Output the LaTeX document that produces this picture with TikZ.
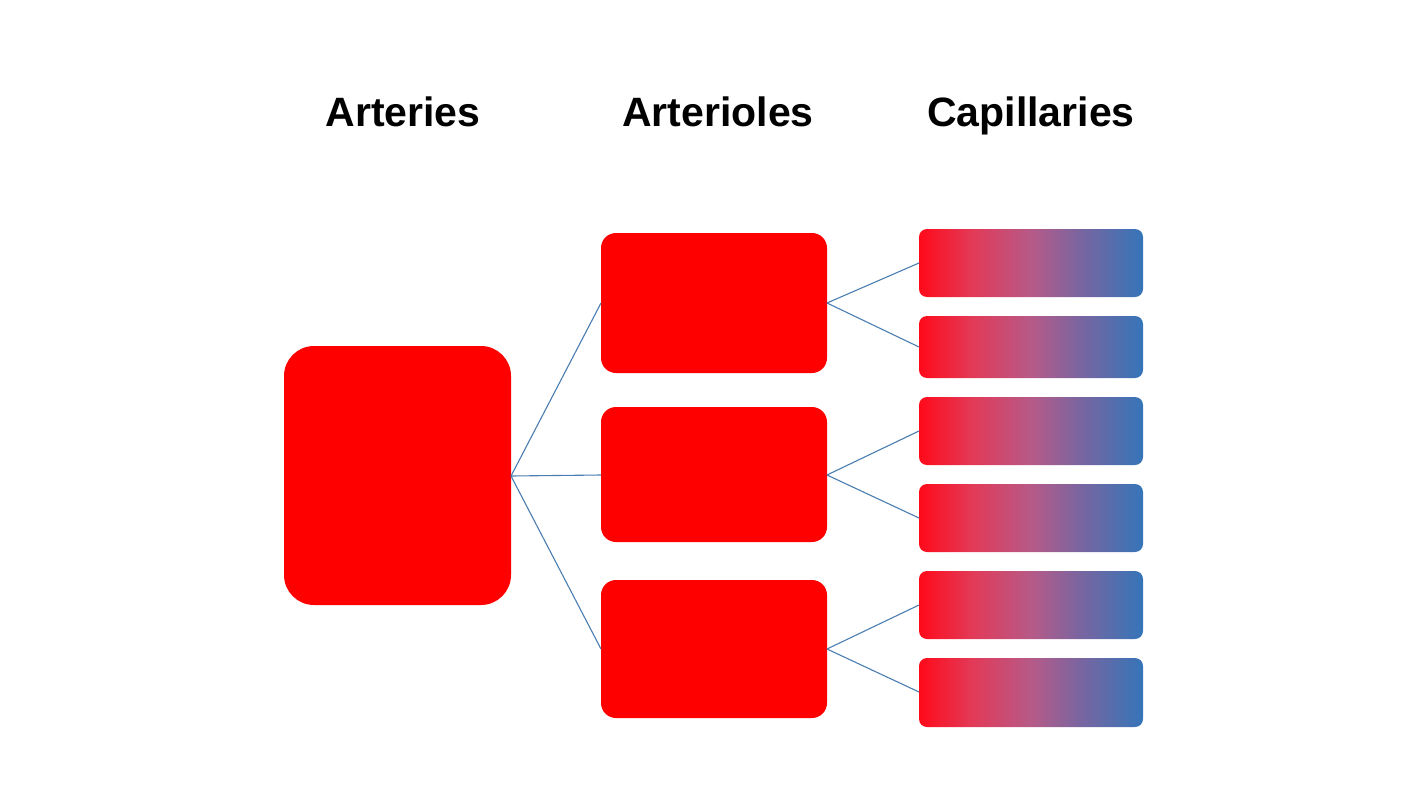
\documentclass[tikz,border=0pt]{standalone}
\usepackage{fontspec}
\setmainfont{Liberation Sans}
\definecolor{capred}{HTML}{FF0A1A}
\definecolor{capq}{HTML}{E23A58}
\definecolor{capmid}{HTML}{B65A88}
\definecolor{capt}{HTML}{7466A2}
\definecolor{capblue}{HTML}{3575B8}
\definecolor{linkblue}{HTML}{4A7EB0}
\pgfdeclarehorizontalshading{capshade}{100bp}{color(0bp)=(capred); color(25bp)=(capred); color(37bp)=(capq); color(50bp)=(capmid); color(62bp)=(capt); color(75bp)=(capblue); color(100bp)=(capblue)}
\tikzset{
  artbox/.style={fill=red, draw=none, rounded corners=30pt, inner sep=0pt},
  aolbox/.style={fill=red, draw=none, rounded corners=15pt, inner sep=0pt},
  capbox/.style={shading=capshade, draw=none, rounded corners=8pt, inner sep=0pt},
  link/.style={draw=linkblue, line width=1.1pt},
  title/.style={font=\fontsize{41}{41}\selectfont\bfseries, inner sep=0pt, anchor=base}
}
\begin{document}
\begin{tikzpicture}[x=1pt,y=-1pt]
\useasboundingbox (0,0) rectangle (1427,803);
\node[title] (tA) at (403,126) {Arteries};
\node[title] (tB) at (718,126) {Arterioles};
\node[title] (tC) at (1031,126) {Capillaries};
% arteries
\path[artbox] (284,346) rectangle (511,605);
\coordinate (aE) at (511,476);
% arterioles
\path[aolbox] (601,233) rectangle (827,373);
\path[aolbox] (601,407) rectangle (827,542);
\path[aolbox] (601,580) rectangle (827,718);
\coordinate (b1W) at (601,303); \coordinate (b1E) at (827,303);
\coordinate (b2W) at (601,475); \coordinate (b2E) at (827,475);
\coordinate (b3W) at (601,649); \coordinate (b3E) at (827,649);
% capillaries
\path[capbox] (919,229) rectangle (1143,297);
\path[capbox] (919,316) rectangle (1143,378);
\path[capbox] (919,397) rectangle (1143,465);
\path[capbox] (919,484) rectangle (1143,552);
\path[capbox] (919,571) rectangle (1143,639);
\path[capbox] (919,658) rectangle (1143,727);
\coordinate (c1) at (919,263); \coordinate (c2) at (919,347);
\coordinate (c3) at (919,431); \coordinate (c4) at (919,518);
\coordinate (c5) at (919,605); \coordinate (c6) at (919,692);
% links
\draw[link] (aE) -- (b1W);
\draw[link] (aE) -- (b2W);
\draw[link] (aE) -- (b3W);
\draw[link] (b1E) -- (c1);
\draw[link] (b1E) -- (c2);
\draw[link] (b2E) -- (c3);
\draw[link] (b2E) -- (c4);
\draw[link] (b3E) -- (c5);
\draw[link] (b3E) -- (c6);
\end{tikzpicture}
\end{document}
